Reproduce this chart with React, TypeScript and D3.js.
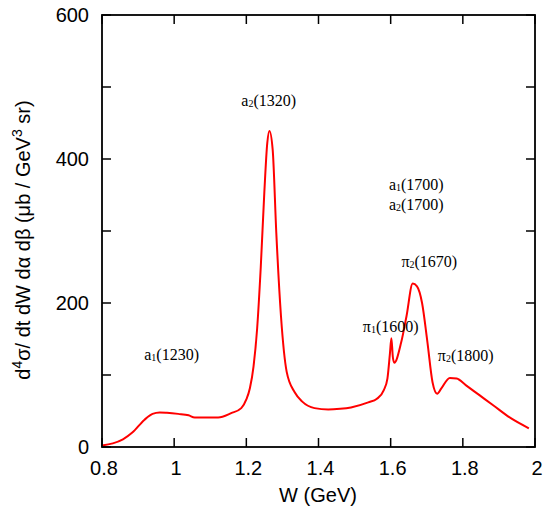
import React from "react";
import * as d3 from "d3";

// W in GeV, cross section in μb / GeV^3 sr
const wValues = [
  0.8, 0.83, 0.858, 0.884, 0.918, 0.94, 0.96, 0.98, 1.011, 1.04, 1.057, 1.09,
  1.122, 1.158, 1.186, 1.2, 1.21, 1.22, 1.23, 1.24, 1.25, 1.258, 1.264, 1.273,
  1.283, 1.296, 1.312, 1.334, 1.355, 1.389, 1.427, 1.46, 1.49, 1.538, 1.562,
  1.581, 1.591, 1.598, 1.602, 1.606, 1.61, 1.629, 1.644, 1.661, 1.673, 1.687,
  1.702, 1.716, 1.729, 1.74, 1.764, 1.783, 1.808, 1.846, 1.884, 1.933, 1.983,
];
const sigmaValues = [
  2, 5, 10.6, 20, 38, 46, 48, 47.5, 46, 44, 41, 41,
  41, 47, 54, 66, 82, 112, 165, 250, 355, 422, 439, 413,
  298, 182, 104, 76, 63, 54, 52, 53, 55, 62, 67,
  79, 95, 130, 151, 125, 117, 145, 182, 227, 223, 200,
  145, 90, 74, 81, 96, 95, 86, 72, 58, 40, 26,
];

const xTicks = [0.8, 1, 1.2, 1.4, 1.6, 1.8, 2];
const yTicks = [0, 100, 200, 300, 400, 500, 600];
const yLabels = [0, 200, 400, 600];

// resonance labels: name, subscript, mass, W position, value position
const resNames = ["a", "a", "a", "a", "π", "π", "π"];
const resSubs = ["2", "1", "1", "2", "2", "1", "2"];
const resMasses = ["(1320)", "(1230)", "(1700)", "(1700)", "(1670)", "(1600)", "(1800)"];
const resW = [1.262, 0.993, 1.671, 1.671, 1.707, 1.6, 1.808];
const resY = [474, 121, 357, 329, 250, 160, 120];

const W = 545;
const H = 512;
const left = 102;
const right = 535;
const top = 15;
const bottom = 447;

export default function App() {
  const x = d3.scaleLinear().domain([0.8, 2]).range([left, right]);
  const y = d3.scaleLinear().domain([0, 600]).range([bottom, top]);

  const pts: [number, number][] = wValues.map((w, i) => [w, sigmaValues[i]]);
  const line = d3
    .line<[number, number]>()
    .x((d) => x(d[0]))
    .y((d) => y(d[1]))
    .curve(d3.curveMonotoneX);

  const tickLen = 9;
  const sans = "'Liberation Sans', Arial, sans-serif";
  const serif = "'Liberation Serif', 'Times New Roman', serif";

  return (
    <svg
      width={W}
      height={H}
      style={{ position: "absolute", left: 0, top: 0, background: "#fff" }}
    >
      {/* ticks */}
      {xTicks.map((t) => (
        <g key={"xt" + t} stroke="#000" strokeWidth={1.5}>
          <line x1={x(t)} x2={x(t)} y1={bottom} y2={bottom - tickLen} />
          <line x1={x(t)} x2={x(t)} y1={top} y2={top + tickLen} />
        </g>
      ))}
      {yTicks.map((t) => (
        <g key={"yt" + t} stroke="#000" strokeWidth={1.5}>
          <line x1={left} x2={left + tickLen} y1={y(t)} y2={y(t)} />
          <line x1={right} x2={right - tickLen} y1={y(t)} y2={y(t)} />
        </g>
      ))}

      {/* curve */}
      <path d={line(pts) || ""} fill="none" stroke="#ff0000" strokeWidth={2} />

      {/* frame */}
      <rect
        x={left}
        y={top}
        width={right - left}
        height={bottom - top}
        fill="none"
        stroke="#000"
        strokeWidth={1.8}
      />

      {/* tick labels */}
      {xTicks.map((t) => (
        <text
          key={"xl" + t}
          x={x(t) + 2}
          y={475}
          textAnchor="middle"
          fontFamily={sans}
          fontSize={20}
        >
          {t}
        </text>
      ))}
      {yLabels.map((t) => (
        <text
          key={"yl" + t}
          x={89}
          y={y(t) + 7}
          textAnchor="end"
          fontFamily={sans}
          fontSize={20}
        >
          {t}
        </text>
      ))}

      {/* axis titles */}
      <text x={318} y={502} textAnchor="middle" fontFamily={sans} fontSize={20}>
        W (GeV)
      </text>
      <text
        transform="translate(30,240) rotate(-90)"
        textAnchor="middle"
        fontFamily={sans}
        fontSize={20}
      >
        d<tspan fontSize={14} dy={-8}>4</tspan>
        <tspan dy={8}>σ/ dt dW dα dβ (μb / GeV</tspan>
        <tspan fontSize={14} dy={-8}>3</tspan>
        <tspan dy={8}> sr)</tspan>
      </text>

      {/* resonance labels */}
      {resNames.map((n, i) => (
        <text
          key={"r" + i}
          x={x(resW[i])}
          y={y(resY[i])}
          textAnchor="middle"
          fontFamily={serif}
          fontSize={16}
        >
          {n}
          <tspan fontSize={10} dy={1}>{resSubs[i]}</tspan>
          <tspan dy={-1}>{resMasses[i]}</tspan>
        </text>
      ))}
    </svg>
  );
}
